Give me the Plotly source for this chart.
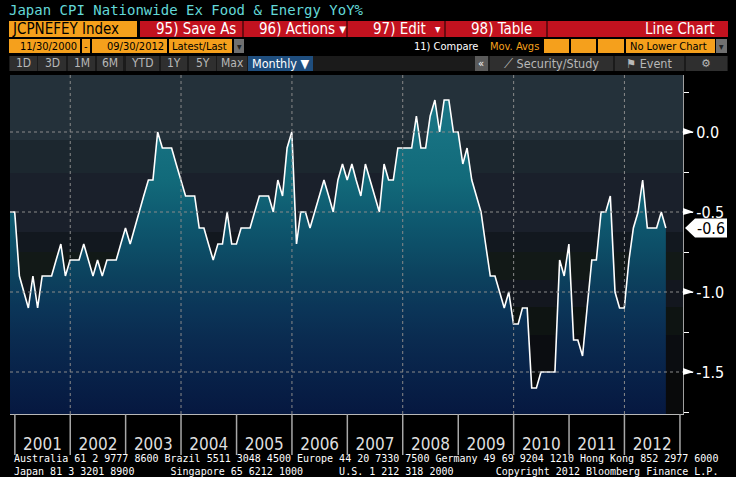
import plotly.graph_objects as go
import pandas as pd

# ---------------- data ----------------
title_text = "Japan CPI Nationwide Ex Food & Energy YoY%"
ticker = "JCPNEFEY Index"
start_date = "2000-11-30"
end_date = "2012-09-30"

# monthly YoY % (Nov 2000 .. Sep 2012)
yoy = [
    -0.5, -0.5,                                                              # 2000 Nov-Dec
    -0.9, -1.0, -1.1, -0.9, -1.1, -0.9, -0.9, -0.9, -0.8, -0.7, -0.9, -0.8,  # 2001
    -0.8, -0.8, -0.7, -0.8, -0.9, -0.8, -0.9, -0.8, -0.8, -0.8, -0.7, -0.6,  # 2002
    -0.7, -0.6, -0.5, -0.4, -0.3, -0.3, 0.0, -0.1, -0.1, -0.1, -0.2, -0.3,   # 2003
    -0.4, -0.4, -0.4, -0.6, -0.6, -0.7, -0.8, -0.7, -0.7, -0.5, -0.7, -0.7,  # 2004
    -0.6, -0.6, -0.6, -0.5, -0.4, -0.4, -0.4, -0.5, -0.3, -0.4, -0.1, 0.0,   # 2005
    -0.7, -0.5, -0.5, -0.6, -0.5, -0.4, -0.3, -0.4, -0.5, -0.3, -0.2, -0.3,  # 2006
    -0.2, -0.3, -0.4, -0.2, -0.3, -0.4, -0.5, -0.2, -0.3, -0.3, -0.1, -0.1,  # 2007
    -0.1, -0.1, 0.1, -0.1, -0.1, 0.1, 0.2, 0.0, 0.2, 0.2, 0.0, 0.0,          # 2008
    -0.2, -0.1, -0.3, -0.4, -0.5, -0.7, -0.9, -0.9, -1.0, -1.1, -1.0, -1.2,  # 2009
    -1.2, -1.1, -1.1, -1.6, -1.6, -1.5, -1.5, -1.5, -1.5, -0.8, -0.9, -0.7,  # 2010
    -1.3, -1.3, -1.4, -1.1, -0.8, -0.8, -0.5, -0.5, -0.4, -1.0, -1.1, -1.1,  # 2011
    -0.8, -0.6, -0.5, -0.3, -0.6, -0.6, -0.6, -0.5, -0.6,                    # 2012
]
dates = pd.date_range(start_date, end_date, freq=pd.offsets.MonthEnd())

y_ticks = [0.0, -0.5, -1.0, -1.5]
y_tick_text = [f"{v:.1f}" for v in y_ticks]
y_minor = [0.25, -0.25, -0.75, -1.25, -1.75]
sep_years = list(range(2001, 2014))
grid_years = [2002, 2004, 2006, 2008, 2010, 2012]

footer1 = "Australia 61 2 9777 8600 Brazil 5511 3048 4500 Europe 44 20 7330 7500 Germany 49 69 9204 1210 Hong Kong 852 2977 6000"
footer2 = ["Japan 81 3 3201 8900", "Singapore 65 6212 1000", "U.S. 1 212 318 2000",
           "Copyright 2012 Bloomberg Finance L.P."]
footer2_cols = [0, 26, 54, 80]   # character columns of each part

# ---------------- geometry / style ----------------
W, H = 736, 477
L, R, T, B = 10, 683, 75, 414
Y_RANGE = [-1.7625, 0.35625]
X_RANGE = ["2000-11-30", "2013-01-21"]

SANS = "Liberation Sans Narrow, Arial Narrow, DejaVu Sans Condensed, sans-serif"
MONO = "DejaVu Sans Mono, Liberation Mono, monospace"
ORANGE = "#f5a01c"
RED = "#c2121f"


def px(x):
    return (x - L) / (R - L)


def py(y):
    return (B - y) / (B - T)


shapes = []
annots = []


def rect(x0, y0, x1, y1, color, line=None, layer="above"):
    shapes.append(dict(type="rect", xref="paper", yref="paper",
                       x0=px(x0), x1=px(x1), y0=py(y1), y1=py(y0),
                       fillcolor=color, line=dict(width=0 if line is None else 1,
                                                  color=line or color),
                       layer=layer))


def text(x, y, s, size=12, color="white", family=SANS, anchor="left", align="left"):
    annots.append(dict(xref="paper", yref="paper", x=px(x), y=py(y), text=s,
                       showarrow=False, xanchor=anchor, yanchor="middle", align=align,
                       borderpad=0,
                       font=dict(size=size, color=color, family=family)))


# plot background bands
bands = [(75, 140, "#24313a"), (140, 173, "#1c272f"), (173, 232, "#1a202b"),
         (232, 252, "#12181f"), (252, 280, "#121917"), (280, 307, "#13171f"),
         (307, 335, "#0e1412"), (335, 372, "#0b0d11"), (372, 414, "#090a0b")]
for y0, y1, c in bands:
    rect(L, y0, R, y1, c, layer="below")

# dotted grid (above the fill)
for v in y_ticks:
    shapes.append(dict(type="line", xref="paper", yref="y", x0=0, x1=1, y0=v, y1=v,
                       line=dict(color="#8a8a8a", width=1, dash="dot"), layer="above"))
for yr in grid_years:
    d = f"{yr}-01-01"
    shapes.append(dict(type="line", xref="x", yref="paper", x0=d, x1=d, y0=0, y1=1,
                       line=dict(color="#8a8a8a", width=1, dash="dot"), layer="above"))

# year separators below the axis
for yr in sep_years:
    d = f"{yr}-01-01"
    shapes.append(dict(type="line", xref="x", yref="paper", x0=d, x1=d, y0=0, y1=py(455),
                       line=dict(color="#a8a8a8", width=1.5), layer="above"))

# right axis triangle markers
for v in y_ticks:
    shapes.append(dict(type="path", xref="paper", yref="y", xsizemode="pixel", ysizemode="pixel",
                       xanchor=1, yanchor=v, path="M0,4 L0,-3 L11,0 Z",
                       fillcolor="white", line=dict(width=0), layer="above"))

# last value label
last_val = yoy[-1]
shapes.append(dict(type="path", xref="paper", yref="y", xsizemode="pixel", ysizemode="pixel",
                   xanchor=1, yanchor=last_val, path="M2,0 L12,9.5 L44,9.5 L44,-9.5 L12,-9.5 Z",
                   fillcolor="white", line=dict(width=0), layer="above"))
annots.append(dict(xref="paper", yref="y", x=1, y=last_val, xshift=28, text=f"{last_val:.1f}",
                   showarrow=False, xanchor="center", yanchor="middle",
                   font=dict(size=16, color="black", family=SANS)))

# ---------------- header ----------------
text(8, 10, title_text, 14, "#63d8d8", MONO)

rect(9, 21, 137, 37, ORANGE)
text(11, 29, ticker, 15, "black", SANS)
rect(140, 21, 728, 37, RED)
for sx in [243, 347, 445, 547]:
    rect(sx - 1, 21, sx + 1, 37, "#6a0a10")
text(155, 29, "95) Save As", 15, "white", SANS)
text(258, 29, "96) Actions \u25be", 15, "white", SANS)
text(372, 29, "97) Edit", 15, "white", SANS)
text(438, 29, "\u25be", 12, "white", SANS, "center")
text(470, 29, "98) Table", 15, "white", SANS)
text(716, 29, "Line Chart", 15, "white", SANS, "right")

rect(9, 39, 80, 53, ORANGE)
text(78, 46, "11/30/2000", 11, "black", SANS, "right")
rect(82, 39, 90, 53, ORANGE)
text(86, 46, "-", 11, "black", SANS, "center")
rect(92, 39, 167, 53, ORANGE)
text(165, 46, "09/30/2012", 11, "black", SANS, "right")
rect(169, 39, 232, 53, ORANGE)
text(171, 46, "Latest/Last", 11, "black", SANS)
rect(234, 39, 244, 53, "#707070")
text(239, 46, "\u25be", 10, "#222222", SANS, "center")
text(413, 46, "11) Compare", 11, "white", SANS)
text(489, 46, "Mov. Avgs", 11, ORANGE, SANS)
for x0, x1 in [(544, 569), (571, 596), (598, 624)]:
    rect(x0, 39, x1, 53, ORANGE)
rect(626, 39, 715, 53, ORANGE)
text(629, 46, "No Lower Chart", 11, "black", SANS)
rect(716, 39, 727, 53, "#707070")
text(721.5, 46, "\u25be", 10, "#222222", SANS, "center")

rect(9, 56, 728, 71, "#1b1b1b")
for x0, x1, s in [(10, 37, "1D"), (38, 66, "3D"), (68, 95, "1M"), (97, 123, "6M"),
                  (126, 159, "YTD"), (161, 187, "1Y"), (189, 216, "5Y"), (217, 247, "Max")]:
    rect(x0, 56, x1, 71, "#2f2f2f")
    text((x0 + x1) / 2, 63.5, s, 12, "#b8b8b8", SANS, "center")
rect(248, 56, 313, 71, "#1f4e7e")
text(280.5, 63.5, "Monthly \u25bc", 12.5, "white", SANS, "center")
rect(475, 56, 488, 71, "#5a5a5a")
text(481.5, 63.5, "\u00ab", 11, "white", SANS, "center")
rect(490, 56, 613, 71, "#2f2f2f")
text(551, 63.5, "\u27cb Security/Study", 12.5, "#b8b8b8", SANS, "center")
rect(615, 56, 684, 71, "#2f2f2f")
text(649, 63.5, "\u2691 Event", 12.5, "#b8b8b8", SANS, "center")
rect(686, 56, 727, 71, "#2f2f2f")
text(706, 63.5, "\u2699", 11, "#b8b8b8", "DejaVu Sans", "center")

# ---------------- footer (one two-line text block) ----------------
line2 = ""
for col, part in zip(footer2_cols, footer2):
    line2 += "\u00a0" * max(0, col - len(line2)) + part
footer_text = footer1 + "<br>" + line2.replace(" ", "\u00a0")
text(13, 464.5, footer_text, 10, "white", MONO)

# ---------------- traces ----------------
fig = go.Figure()
fig.add_trace(go.Scatter(x=dates, y=[Y_RANGE[0]] * len(dates), mode="lines",
                         line=dict(width=0), showlegend=False, hoverinfo="skip"))
fig.add_trace(go.Scatter(
    x=dates, y=yoy, mode="lines", name=ticker,
    line=dict(color="white", width=1.6),
    fill="tonexty",
    fillgradient=dict(type="vertical", start=Y_RANGE[0], stop=Y_RANGE[1], colorscale=[
        [0.00, "#061840"], [0.12, "#082249"], [0.22, "#0a2b50"], [0.31, "#0b3558"],
        [0.41, "#0c425e"], [0.50, "#0d4f68"], [0.60, "#0f5d72"], [0.69, "#126a7a"],
        [0.83, "#177282"], [1.00, "#1c7888"]]),
    showlegend=False,
))

fig.update_layout(
    width=W, height=H,
    margin=dict(l=L, r=W - R, t=T, b=H - B),
    paper_bgcolor="black", plot_bgcolor="black",
    shapes=shapes, annotations=annots,
    showlegend=False,
    xaxis=dict(type="date", range=X_RANGE, showgrid=False, zeroline=False,
               tick0="2001-01-01", dtick="M12", tickformat="%Y", ticklabelmode="period",
               ticks="", ticklabelstandoff=15,
               tickfont=dict(size=17, color="#dedede", family=SANS),
               showline=True, linecolor="#b8b8b8", linewidth=1),
    yaxis=dict(range=Y_RANGE, side="right", showgrid=False, zeroline=False,
               tickvals=y_ticks, ticktext=y_tick_text, ticks="outside", ticklen=9,
               tickcolor="white", tickwidth=1,
               minor=dict(tickvals=y_minor, ticks="outside", ticklen=5, tickcolor="white"),
               tickfont=dict(size=16, color="white", family=SANS),
               showline=True, linecolor="#a0a0a0", linewidth=1),
)

fig.write_html("out.html", config={"displayModeBar": False},
               post_script="document.body.style.margin='0px';document.body.style.background='black';")
